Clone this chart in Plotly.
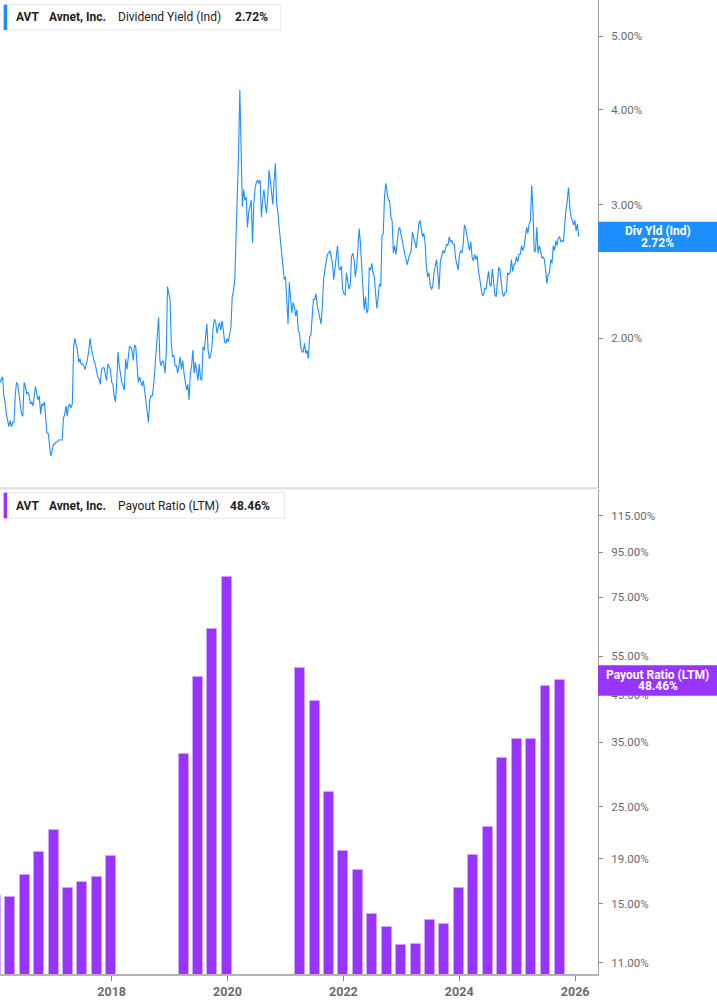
import math
import pandas as pd
import plotly.graph_objects as go

# AVT dividend yield (%), one reading every 8 days starting at yield_start
yield_start = "2016-01-28"
div_yield = [
    1.75, 1.77, 1.78, 1.68, 1.65, 1.59, 1.56, 1.53, 1.56, 1.53,
    1.55, 1.55, 1.68, 1.75, 1.74, 1.68, 1.64, 1.59, 1.58, 1.75,
    1.73, 1.69, 1.70, 1.68, 1.64, 1.65, 1.63, 1.67, 1.73, 1.69,
    1.66, 1.68, 1.59, 1.64, 1.63, 1.65, 1.58, 1.50, 1.50, 1.43,
    1.40, 1.42, 1.45, 1.45, 1.46, 1.46, 1.47, 1.47, 1.47, 1.47,
    1.57, 1.59, 1.63, 1.58, 1.63, 1.64, 1.62, 1.64, 1.95, 2.00,
    1.96, 1.93, 1.86, 1.88, 1.85, 1.85, 1.84, 1.82, 1.85, 1.88,
    1.93, 2.00, 1.94, 1.90, 1.87, 1.85, 1.82, 1.78, 1.77, 1.74,
    1.82, 1.83, 1.83, 1.80, 1.76, 1.85, 1.83, 1.82, 1.75, 1.74,
    1.68, 1.65, 1.75, 1.92, 1.84, 1.79, 1.75, 1.73, 1.71, 1.88,
    1.82, 1.88, 1.95, 1.95, 1.93, 1.87, 1.96, 1.95, 1.86, 1.75,
    1.78, 1.75, 1.73, 1.76, 1.70, 1.65, 1.61, 1.55, 1.66, 1.68,
    1.68, 1.73, 1.82, 1.92, 1.98, 2.13, 1.87, 1.84, 1.87, 1.86,
    1.80, 1.90, 2.34, 2.29, 2.25, 1.97, 1.89, 1.90, 1.84, 1.84,
    1.80, 1.84, 1.89, 1.82, 1.87, 1.80, 1.74, 1.71, 1.74, 1.66,
    1.80, 1.84, 1.93, 1.80, 1.86, 1.82, 1.76, 1.85, 1.77, 1.76,
    1.95, 1.93, 2.01, 2.09, 1.93, 1.88, 1.90, 1.95, 2.07, 2.12,
    2.10, 2.03, 2.07, 2.10, 2.05, 2.11, 2.05, 1.98, 1.97, 2.00,
    1.98, 2.02, 2.07, 2.27, 2.31, 2.39, 2.69, 3.06, 3.50, 4.25,
    3.43, 2.98, 3.14, 3.04, 3.07, 2.80, 2.93, 2.98, 3.04, 2.67,
    3.01, 3.15, 3.21, 3.23, 3.20, 3.23, 2.89, 3.04, 3.14, 3.01,
    2.92, 3.07, 3.33, 3.23, 3.10, 3.00, 3.23, 3.40, 3.01, 2.93,
    2.80, 2.69, 2.59, 2.47, 2.39, 2.41, 2.18, 2.09, 2.37, 2.25,
    2.16, 2.23, 2.20, 2.14, 2.18, 2.05, 2.03, 1.95, 1.92, 1.92,
    1.97, 1.91, 1.93, 1.88, 2.01, 2.02, 2.16, 2.25, 2.25, 2.29,
    2.21, 2.16, 2.11, 2.09, 2.20, 2.39, 2.46, 2.51, 2.58, 2.59,
    2.61, 2.56, 2.51, 2.39, 2.46, 2.56, 2.65, 2.48, 2.46, 2.49,
    2.32, 2.29, 2.28, 2.44, 2.39, 2.32, 2.35, 2.56, 2.59, 2.54,
    2.41, 2.48, 2.61, 2.79, 2.67, 2.50, 2.29, 2.18, 2.27, 2.16,
    2.18, 2.48, 2.46, 2.51, 2.44, 2.41, 2.29, 2.19, 2.27, 2.36,
    2.34, 2.72, 2.75, 3.07, 3.20, 3.10, 3.04, 3.04, 2.89, 2.86,
    2.59, 2.65, 2.58, 2.67, 2.78, 2.80, 2.74, 2.67, 2.61, 2.58,
    2.54, 2.50, 2.55, 2.59, 2.61, 2.76, 2.72, 2.69, 2.63, 2.72,
    2.83, 2.86, 2.80, 2.72, 2.75, 2.67, 2.49, 2.41, 2.44, 2.35,
    2.32, 2.34, 2.44, 2.51, 2.54, 2.44, 2.32, 2.52, 2.56, 2.61,
    2.59, 2.62, 2.66, 2.65, 2.72, 2.68, 2.69, 2.66, 2.66, 2.55,
    2.51, 2.46, 2.57, 2.61, 2.59, 2.66, 2.82, 2.79, 2.73, 2.67,
    2.61, 2.68, 2.56, 2.53, 2.58, 2.54, 2.57, 2.46, 2.39, 2.33,
    2.28, 2.28, 2.33, 2.32, 2.40, 2.45, 2.36, 2.34, 2.47, 2.39,
    2.28, 2.27, 2.39, 2.48, 2.46, 2.35, 2.29, 2.27, 2.30, 2.30,
    2.44, 2.43, 2.44, 2.54, 2.45, 2.50, 2.51, 2.56, 2.52, 2.58,
    2.58, 2.65, 2.61, 2.64, 2.72, 2.80, 2.75, 2.83, 2.86, 3.18,
    2.95, 2.60, 2.61, 2.80, 2.59, 2.65, 2.61, 2.55, 2.56, 2.54,
    2.46, 2.36, 2.43, 2.44, 2.54, 2.51, 2.65, 2.61, 2.69, 2.65,
    2.71, 2.72, 2.68, 2.69, 2.68, 2.83, 2.95, 3.03, 3.16, 2.98,
    2.89, 2.86, 2.82, 2.86, 2.77, 2.83, 2.72,
]

# payout ratio (LTM, %) at fiscal quarter ends
payout_dates = [
    "2016-01-02", "2016-04-02", "2016-07-02", "2016-10-01", "2016-12-31",
    "2017-04-01", "2017-07-01", "2017-09-30", "2017-12-30",
    "2019-03-30", "2019-06-29", "2019-09-28", "2019-12-28",
    "2021-04-03", "2021-07-03", "2021-10-02", "2022-01-01", "2022-04-02",
    "2022-07-02", "2022-10-01", "2022-12-31", "2023-04-01", "2023-07-01",
    "2023-09-30", "2023-12-30", "2024-03-30", "2024-06-29", "2024-09-28",
    "2024-12-28", "2025-03-29", "2025-06-28", "2025-09-27",
]
payout_ratio = [
    15.6, 15.57, 17.48, 19.72, 22.13,
    16.33, 16.85, 17.29, 19.31,
    33.0, 49.4, 63.5, 83.5,
    51.8, 43.5, 26.97, 19.82, 17.91,
    14.19, 13.28, 12.11, 12.17, 13.78,
    13.52, 16.30, 19.34, 22.40, 32.24,
    35.6, 35.7, 47.0, 48.46,
]

yield_ticks = [2, 3, 4, 5]
payout_ticks = [11, 15, 19, 25, 35, 45, 55, 75, 95, 115]
year_ticks = ["2018-01-01", "2020-01-01", "2022-01-01", "2024-01-01", "2026-01-01"]
year_labels = ["2018", "2020", "2022", "2024", "2026"]

BLUE = "#1e8fff"
PURPLE = "#9933ff"
FONT = "Roboto"

W, H = 717, 1005
PLOT_W, PLOT_H = 598, 974

yield_dates = pd.date_range(yield_start, periods=len(div_yield), freq="8D")

x_range = ["2016-01-28", "2026-05-25"]
top_dom = [(PLOT_H - 487.7) / PLOT_H, 1]
bot_dom = [0, (PLOT_H - 489) / PLOT_H]
top_rng = [math.log10(1.272), math.log10(5.577)]
bot_rng = [math.log10(10.38), math.log10(132.4)]


def px(x):
    return x / PLOT_W


def py(y):
    return (PLOT_H - y) / PLOT_H


def to_paper(v, rng, dom):
    return dom[0] + (math.log10(v) - rng[0]) / (rng[1] - rng[0]) * (dom[1] - dom[0])


fig = go.Figure()
fig.add_trace(go.Scatter(
    x=yield_dates, y=div_yield, mode="lines",
    line=dict(color=BLUE, width=1.1),
    xaxis="x", yaxis="y", hoverinfo="skip", showlegend=False,
))
fig.add_trace(go.Bar(
    x=pd.to_datetime(payout_dates), y=payout_ratio,
    width=63 * 86400000,
    marker=dict(color=PURPLE, line=dict(color="#cfa6ff", width=1)),
    xaxis="x2", yaxis="y2", hoverinfo="skip", showlegend=False,
))

yaxis_common = dict(
    type="log", side="right", showgrid=False, zeroline=False,
    showline=True, linecolor="#a0a0a0", linewidth=1,
    ticks="outside", ticklen=4, tickcolor="#8a8a8a",
    tickfont=dict(family=FONT, size=11.5, color="#6b6b6b"),
    ticklabelstandoff=6, automargin=False, fixedrange=True,
)

fig.update_layout(
    template="none",
    width=W, height=H,
    margin=dict(l=0, r=W - PLOT_W, t=0, b=H - PLOT_H, pad=0),
    paper_bgcolor="white", plot_bgcolor="white",
    showlegend=False, bargap=0,
    xaxis=dict(
        domain=[0, 1], anchor="y", type="date", range=x_range,
        showticklabels=False, showgrid=False, zeroline=False,
        showline=False, ticks="", automargin=False,
    ),
    yaxis=dict(
        domain=top_dom, anchor="x", range=top_rng,
        tickvals=yield_ticks, ticktext=[f"{v:.2f}%" for v in yield_ticks],
        **yaxis_common,
    ),
    xaxis2=dict(
        domain=[0, 1], anchor="y2", type="date", range=x_range,
        tickvals=year_ticks, ticktext=year_labels,
        tickfont=dict(family=FONT, size=12.5, color="#6b6b6b", weight="bold"),
        showgrid=False, zeroline=False,
        showline=True, linecolor="#b3b3b3", linewidth=2,
        ticks="outside", ticklen=5, tickcolor="#8a8a8a",
        automargin=False,
    ),
    yaxis2=dict(
        domain=bot_dom, anchor="x2", range=bot_rng,
        tickvals=payout_ticks, ticktext=[f"{v:.2f}%" for v in payout_ticks],
        **yaxis_common,
    ),
)

shapes = [
    # separator between the two panels
    dict(type="line", xref="paper", yref="paper", x0=0, x1=1,
         y0=py(488.3), y1=py(488.3), line=dict(color="#e2e2e2", width=2.5)),
]
annotations = []


def header(y_top, y_bot, x_right, color, items):
    shapes.append(dict(type="rect", xref="paper", yref="paper",
                       x0=px(3.7), x1=px(x_right), y0=py(y_bot), y1=py(y_top),
                       line=dict(color="#e6e6e6", width=1), fillcolor="white"))
    shapes.append(dict(type="rect", xref="paper", yref="paper",
                       x0=px(3.7), x1=px(7.2), y0=py(y_bot), y1=py(y_top),
                       line=dict(width=0), fillcolor=color))
    yc = py((y_top + y_bot) / 2)
    for x0, text, bold in items:
        annotations.append(dict(
            xref="paper", yref="paper", x=px(x0), y=yc,
            xanchor="left", yanchor="middle", showarrow=False,
            text=f"<b>{text}</b>" if bold else text,
            font=dict(family=FONT, size=12, color="#222222"),
        ))


header(4.7, 30.0, 281, BLUE, [
    (13.7, "AVT", True), (47, "Avnet, Inc.", True),
    (115.7, "Dividend Yield (Ind)", False), (232.7, f"{div_yield[-1]:.2f}%", True),
])
header(492.7, 518.3, 284.4, PURPLE, [
    (13.7, "AVT", True), (47, "Avnet, Inc.", True),
    (115.7, "Payout Ratio (LTM)", False), (228.2, f"{payout_ratio[-1]:.2f}%", True),
])


def value_tag(v, rng, dom, color, title):
    yc = to_paper(v, rng, dom)
    half = 15.2 / PLOT_H
    shapes.append(dict(type="rect", xref="paper", yref="paper",
                       x0=1, x1=W / PLOT_W, y0=yc - half, y1=yc + half,
                       line=dict(width=0), fillcolor=color, layer="above"))
    for text, shift in [(title, 5.8), (f"{v:.2f}%", -5.6)]:
        annotations.append(dict(
            xref="paper", yref="paper", x=(PLOT_W + W) / 2 / PLOT_W, y=yc,
            yshift=shift, xanchor="center", yanchor="middle", showarrow=False,
            text=f"<b>{text}</b>",
            font=dict(family=FONT, size=12, color="white"),
        ))


value_tag(div_yield[-1], top_rng, top_dom, BLUE, "Div Yld (Ind)")
value_tag(payout_ratio[-1], bot_rng, bot_dom, PURPLE, "Payout Ratio (LTM)")

fig.update_layout(shapes=shapes, annotations=annotations)

fig.write_html("out.html", config={"displayModeBar": False},
               post_script="document.body.style.margin='0px';")
